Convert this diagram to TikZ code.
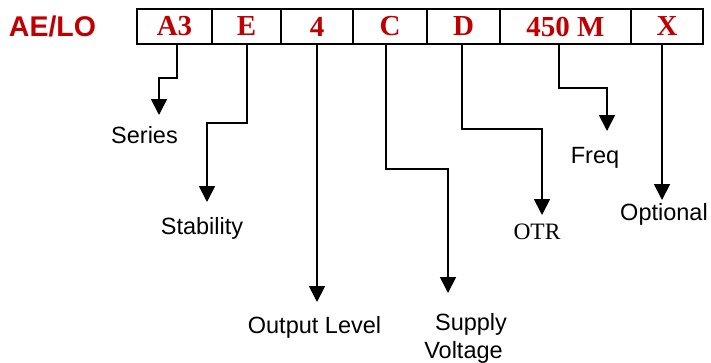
\documentclass[tikz,border=0pt]{standalone}
\usepackage{fontspec}
\setmainfont{Liberation Serif}
\newfontfamily\arialfont{Liberation Sans}
\usetikzlibrary{arrows.meta}
\definecolor{codered}{RGB}{192,0,0}
\tikzset{
  cell/.style={draw, line width=2pt, inner sep=0pt, outer sep=0pt, minimum height=35pt,
    text=codered, font=\fontsize{29}{30}\selectfont\bfseries},
  conn/.style={line width=1.8pt, -{Triangle[width=16pt,length=16pt]}},
  lbl/.style={anchor=base, inner sep=0pt, font=\arialfont\fontsize{23.5}{24}\selectfont},
  serlbl/.style={anchor=base, inner sep=0pt, font=\fontsize{23.5}{24}\selectfont},
}
\begin{document}
\begin{tikzpicture}[x=1pt,y=-1pt]
\useasboundingbox (0,0) rectangle (711,362);
\node[anchor=base, inner sep=0pt, text=codered, font=\arialfont\bfseries\fontsize{28.5}{30}\selectfont] (title) at (52.5,36) {AE/LO};
\node[cell, minimum width=75pt] (ca) at (174.5,26.5) {A3};
\node[cell, minimum width=69pt] (ce) at (246.5,26.5) {E};
\node[cell, minimum width=72pt] (c4) at (317,26.5) {4};
\node[cell, minimum width=74pt] (cc) at (390,26.5) {C};
\node[cell, minimum width=73pt] (cd) at (463.5,26.5) {D};
\node[cell, minimum width=131pt] (cm) at (565.5,26.5) {450 M};
\node[cell, minimum width=72pt] (cx) at (667,26.5) {X};
% labels
\node[lbl] (series) at (144.5,143) {Series};
\node[lbl] (stab) at (202,234) {Stability};
\node[lbl] (outlvl) at (314.5,333) {Output Level};
\node[lbl] (supply) at (471,330) {Supply};
\node[lbl] (volt) at (463.5,358) {Voltage};
\node[serlbl] (otr) at (537,239) {OTR};
\node[lbl] (freq) at (595,163) {Freq};
\node[lbl] (opt) at (664,220) {Optional};
% arrow end points
\coordinate (ea) at (159,115);
\coordinate (ee) at (207,202);
\coordinate (e4) at (317,302);
\coordinate (ec) at (448,293);
\coordinate (ed) at (542,215);
\coordinate (em) at (607,131);
\coordinate (ex) at (662,200);
% connectors
\draw[conn] (ca.south -| 177,0) |- (ea |- 0,78) -- (ea);
\draw[conn] (ce.south -| 247,0) |- (ee |- 0,123) -- (ee);
\draw[conn] (c4.south -| e4) -- (e4);
\draw[conn] (cc.south -| 386,0) |- (ec |- 0,169) -- (ec);
\draw[conn] (cd.south -| 462,0) |- (ed |- 0,129) -- (ed);
\draw[conn] (cm.south -| 559,0) |- (em |- 0,88) -- (em);
\draw[conn] (cx.south -| ex) -- (ex);
\end{tikzpicture}
\end{document}
